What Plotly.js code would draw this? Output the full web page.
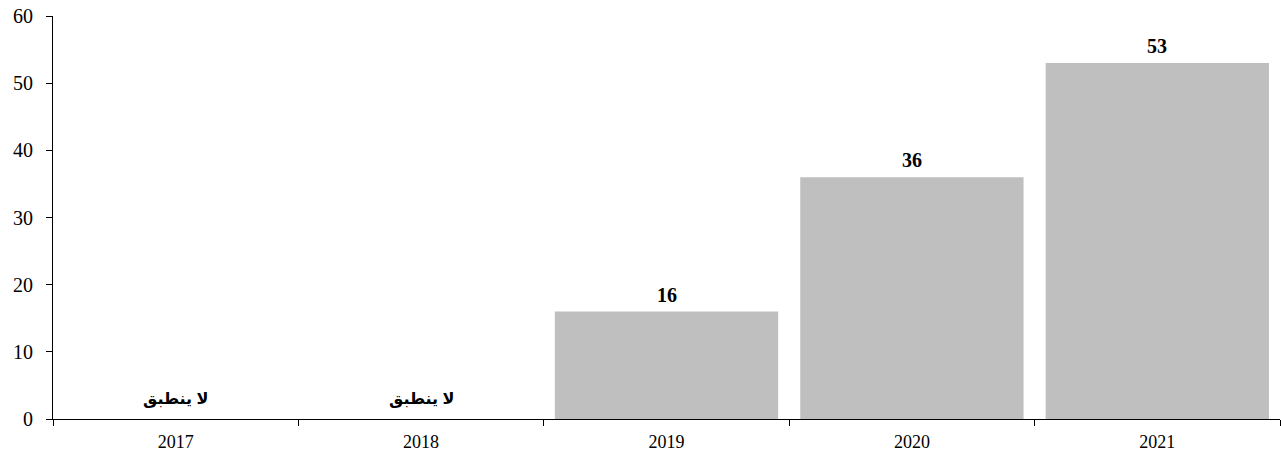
<!DOCTYPE html>
<html>
<head>
<meta charset="utf-8">
<script src="https://cdn.plot.ly/plotly-3.0.1.min.js"></script>
<style>html,body{margin:0;padding:0;background:#fff}#chart{width:1281px;height:457px}</style>
</head>
<body>
<div id="chart"></div>
<script>
const years = ["2017", "2018", "2019", "2020", "2021"];
const values = [null, null, 16, 36, 53];
const labels = ["لا ينطبق", "لا ينطبق", "16", "36", "53"];
const yTicks = [0, 10, 20, 30, 40, 50, 60];

const serif = "'Times New Roman', 'Liberation Serif', 'DejaVu Sans', serif";
const arabicFont = "Arial, 'Liberation Sans', 'DejaVu Sans', sans-serif";

const trace = {
  type: "bar",
  x: years,
  y: values,
  marker: { color: "#bfbfbf" },
  hoverinfo: "skip"
};

const annotations = years.map((yr, i) => {
  const isNA = values[i] == null;
  return {
    x: i,
    y: isNA ? 0 : values[i],
    xref: "x",
    yref: "y",
    text: "<b>" + labels[i] + "</b>",
    showarrow: false,
    yanchor: "bottom",
    yshift: isNA ? 9 : 4,
    font: isNA ? { family: arabicFont, size: 16, color: "#000" }
               : { family: serif, size: 20, color: "#000" }
  };
});

const layout = {
  width: 1281,
  height: 457,
  margin: { l: 53, r: 1, t: 16, b: 38 },
  paper_bgcolor: "#fff",
  plot_bgcolor: "#fff",
  bargap: 0.09,
  showlegend: false,
  font: { family: serif, size: 18, color: "#000" },
  xaxis: {
    type: "category",
    range: [-0.5, years.length - 0.5],
    autorange: false,
    showline: true,
    linecolor: "#000",
    linewidth: 1,
    ticks: "outside",
    tickson: "boundaries",
    ticklen: 6,
    tickcolor: "#000",
    showgrid: false,
    zeroline: false,
    tickangle: 0,
    ticklabelstandoff: 6,
    tickfont: { family: serif, size: 18, color: "#000" }
  },
  yaxis: {
    range: [0, 60],
    autorange: false,
    tickvals: yTicks,
    ticktext: yTicks.map(String),
    showline: true,
    linecolor: "#000",
    linewidth: 1,
    ticks: "outside",
    ticklen: 6,
    tickcolor: "#000",
    showgrid: false,
    zeroline: false,
    ticklabelstandoff: 9,
    tickfont: { family: serif, size: 20, color: "#000" }
  },
  annotations: annotations
};

Plotly.newPlot("chart", [trace], layout, { displayModeBar: false, staticPlot: true });
</script>
</body>
</html>
